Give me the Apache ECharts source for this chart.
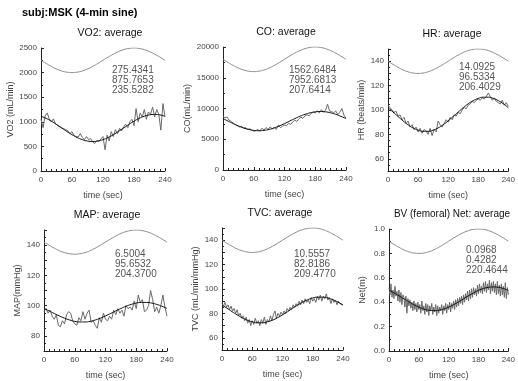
<!DOCTYPE html>
<html>
<head>
<meta charset="utf-8">
<script src="https://cdn.jsdelivr.net/npm/echarts@6/dist/echarts.min.js"></script>
<style>
  html, body { margin: 0; padding: 0; background: #fff; }
  #chart { width: 518px; height: 381px; }
</style>
</head>
<body>
<div id="chart"></div>
<script>
// time axis (sec)
var fitTimes = [0, 10, 20, 30, 40, 50, 60, 70, 80, 90, 100, 110, 120, 130, 140, 150, 160, 170, 180, 190, 200, 210, 220, 230, 240];

// VO2
var vo2Stim = [2250, 2185, 2125, 2073, 2033, 2009, 2000, 2009, 2033, 2073, 2125, 2185, 2250, 2315, 2375, 2427, 2467, 2491, 2500, 2491, 2467, 2427, 2375, 2315, 2250];
var vo2Fit = [1113, 1069, 1013, 946, 875, 804, 738, 681, 637, 609, 600, 609, 637, 681, 738, 804, 875, 946, 1013, 1069, 1113, 1141, 1150, 1141, 1113];
var vo2Raw = [1050, 880, 1120, 1180, 1060, 1000, 1060, 960, 930, 900, 880, 860, 840, 820, 760, 800, 720, 700, 690, 760, 680, 640, 700, 640, 660, 590, 560, 620, 600, 650, 700, 430, 730, 610, 800, 700, 840, 760, 870, 820, 900, 950, 880, 1000, 1050, 920, 1270, 1000, 1180, 1100, 1250, 1050, 1200, 1150, 1300, 1100, 1250, 1150, 830, 1370, 1100];

// CO
var coStim = [18000, 17482, 17000, 16586, 16268, 16068, 16000, 16068, 16268, 16586, 17000, 17482, 18000, 18518, 19000, 19414, 19732, 19932, 20000, 19932, 19732, 19414, 19000, 18518, 18000];
var coFit = [8354, 7950, 7546, 7170, 6847, 6599, 6443, 6390, 6443, 6599, 6847, 7170, 7546, 7950, 8354, 8730, 9053, 9301, 9457, 9510, 9457, 9301, 9053, 8730, 8354];
var coRaw = [8700, 8500, 8600, 8100, 7900, 7600, 7400, 7200, 7000, 7100, 6800, 6900, 6600, 6700, 6500, 6300, 6400, 6600, 6300, 6800, 6500, 6900, 6600, 7000, 6700, 6900, 6600, 7300, 6900, 7100, 7300, 7200, 7600, 7400, 7800, 8100, 7900, 8300, 8600, 8400, 8800, 9000, 8800, 9200, 9400, 9300, 9600, 9300, 9800, 9400, 9700, 10700, 9600, 9500, 9300, 9600, 9000, 9400, 10000, 8900, 8400];

// HR
var hrStim = [140, 137.4, 135, 132.9, 131.3, 130.3, 130, 130.3, 131.3, 132.9, 135, 137.4, 140, 142.6, 145, 147.1, 148.7, 149.7, 150, 149.7, 148.7, 147.1, 145, 142.6, 140];
var hrFit = [101.9, 98.3, 94.7, 91.1, 87.9, 85.3, 83.5, 82.5, 82.5, 83.5, 85.3, 87.9, 91.1, 94.7, 98.3, 101.9, 105.1, 107.7, 109.5, 110.5, 110.5, 109.5, 107.7, 105.1, 101.9];
var hrRaw = [104, 102, 100, 98, 99, 95, 96, 92, 94, 89, 91, 86, 88, 84, 86, 82, 85, 81, 84, 83, 80, 85, 79, 84, 82, 91, 88, 86, 89, 92, 90, 94, 92, 96, 95, 98, 97, 100, 102, 101, 104, 105, 107, 106, 108, 109, 108, 110, 109, 111, 114, 111, 108, 110, 107, 106, 105, 108, 104, 106, 103];

// MAP
var mapStim = [142, 139.9, 138, 136.3, 135.1, 134.3, 134, 134.3, 135.1, 136.3, 138, 139.9, 142, 144.1, 146, 147.7, 148.9, 149.7, 150, 149.7, 148.9, 147.7, 146, 144.1, 142];
var mapFit = [98.1, 96.5, 94.8, 93.2, 91.7, 90.5, 89.6, 89.2, 89.2, 89.6, 90.5, 91.7, 93.2, 94.8, 96.5, 98.1, 99.6, 100.8, 101.7, 102.1, 102.1, 101.7, 100.8, 99.6, 98.1];
var mapRaw = [96, 98, 95, 97, 93, 91, 94, 87, 86, 90, 88, 94, 96, 95, 90, 88, 87, 92, 90, 96, 91, 95, 97, 89, 90, 87, 85, 92, 89, 95, 91, 90, 93, 91, 97, 94, 98, 95, 97, 93, 100, 98, 99, 97, 103, 98, 107, 102, 104, 96, 97, 100, 110, 104, 96, 99, 95, 100, 107, 99, 93];

// TVC
var tvcStim = [140, 137.4, 135, 132.9, 131.3, 130.3, 130, 130.3, 131.3, 132.9, 135, 137.4, 140, 142.6, 145, 147.1, 148.7, 149.7, 150, 149.7, 148.7, 147.1, 145, 142.6, 140];
var tvcFit = [86.8, 84.2, 81.4, 78.8, 76.4, 74.4, 73.1, 72.3, 72.3, 73.1, 74.4, 76.4, 78.8, 81.4, 84.2, 86.8, 89.2, 91.2, 92.6, 93.3, 93.3, 92.6, 91.2, 89.2, 86.8];
var tvcRaw = [88, 86, 89, 85, 87, 83, 86, 82, 84, 80, 83, 78, 80, 76, 78, 74, 77, 72, 75, 70, 74, 71, 76, 72, 74, 70, 75, 72, 77, 71, 75, 73, 78, 74, 79, 82, 76, 80, 78, 81, 79, 82, 80, 84, 82, 85, 83, 87, 85, 88, 86, 90, 87, 91, 88, 92, 89, 91, 88, 93, 90, 92, 89, 94, 91, 95, 90, 94, 92, 96, 91, 93, 88, 92, 89, 91, 87, 90, 88, 89, 87];

// BV (femoral) Net
var bvStim = [0.9, 0.874, 0.85, 0.829, 0.813, 0.803, 0.8, 0.803, 0.813, 0.829, 0.85, 0.874, 0.9, 0.926, 0.95, 0.971, 0.987, 0.997, 1.0, 0.997, 0.987, 0.971, 0.95, 0.926, 0.9];
var bvFit = [0.497, 0.476, 0.453, 0.428, 0.403, 0.380, 0.360, 0.344, 0.334, 0.331, 0.334, 0.344, 0.360, 0.380, 0.403, 0.428, 0.453, 0.476, 0.497, 0.512, 0.522, 0.525, 0.522, 0.512, 0.497];
var bvRaw = [0.52, 0.46, 0.55, 0.44, 0.50, 0.43, 0.53, 0.45, 0.49, 0.41, 0.50, 0.40, 0.48, 0.38, 0.46, 0.44, 0.36, 0.45, 0.31, 0.43, 0.37, 0.42, 0.35, 0.40, 0.33, 0.41, 0.34, 0.39, 0.32, 0.40, 0.34, 0.38, 0.31, 0.41, 0.33, 0.37, 0.30, 0.39, 0.32, 0.38, 0.29, 0.37, 0.33, 0.39, 0.30, 0.36, 0.32, 0.38, 0.29, 0.37, 0.31, 0.36, 0.33, 0.38, 0.30, 0.37, 0.33, 0.39, 0.31, 0.38, 0.34, 0.40, 0.32, 0.39, 0.35, 0.41, 0.34, 0.42, 0.36, 0.43, 0.37, 0.44, 0.39, 0.45, 0.38, 0.46, 0.40, 0.47, 0.42, 0.49, 0.41, 0.50, 0.43, 0.51, 0.44, 0.52, 0.46, 0.51, 0.45, 0.54, 0.47, 0.55, 0.48, 0.53, 0.47, 0.56, 0.49, 0.57, 0.48, 0.55, 0.50, 0.58, 0.47, 0.56, 0.49, 0.57, 0.48, 0.55, 0.46, 0.57, 0.47, 0.54, 0.45, 0.55, 0.46, 0.53, 0.44, 0.56, 0.43, 0.52, 0.46];

var panels = [
  { title: 'VO2: average', yName: 'VO2 (mL/min)', stim: vo2Stim, fit: vo2Fit, raw: vo2Raw,
    stats: ['275.4341', '875.7653', '235.5282'], min: 0, max: 2500, interval: 500, labelStep: 500, labelFrom: 0,
    box: [41, 48, 124, 123], titleX: 110, titleSize: 10.5, statsPos: [112, 65], yGap: 26 },
  { title: 'CO: average', yName: 'CO(mL/min)', stim: coStim, fit: coFit, raw: coRaw,
    stats: ['1562.6484', '7952.6813', '207.6414'], min: 0, max: 20000, interval: 5000, labelStep: 5000, labelFrom: 0,
    box: [223, 47, 123, 123], titleX: 286, titleSize: 10.5, statsPos: [289, 65], yGap: 31 },
  { title: 'HR: average', yName: 'HR (beats/min)', stim: hrStim, fit: hrFit, raw: hrRaw,
    stats: ['14.0925', '96.5334', '206.4029'], min: 50, max: 150, interval: 10, labelStep: 20, labelFrom: 60,
    box: [388, 49, 123, 122], titleX: 452, titleSize: 10.5, statsPos: [459, 62], yGap: 22 },
  { title: 'MAP: average', yName: 'MAP(mmHg)', stim: mapStim, fit: mapFit, raw: mapRaw,
    stats: ['6.5004', '95.6532', '204.3700'], min: 70, max: 150, interval: 10, labelStep: 20, labelFrom: 80,
    box: [44, 230, 123, 121], titleX: 107, titleSize: 10.5, statsPos: [115, 249], yGap: 22 },
  { title: 'TVC: average', yName: 'TVC (mL/min/mmHg)', stim: tvcStim, fit: tvcFit, raw: tvcRaw,
    stats: ['10.5557', '82.8186', '209.4770'], min: 50, max: 150, interval: 10, labelStep: 20, labelFrom: 60,
    box: [222, 228, 121, 122], titleX: 280, titleSize: 10.5, statsPos: [294, 249], yGap: 22 },
  { title: 'BV (femoral) Net: average', yName: 'Net(m)', stim: bvStim, fit: bvFit, raw: bvRaw,
    stats: ['0.0968', '0.4282', '220.4644'], min: 0, max: 1, interval: 0.2, labelStep: 0.2, labelFrom: 0,
    box: [389, 229, 123, 123], titleX: 452, titleSize: 10, statsPos: [466, 245], yGap: 22 }
];

var FONT = 'Liberation Sans, Arial, sans-serif';

function pairs(times, vals) {
  return vals.map(function (v, i) { return [times[i], v]; });
}
function rawTimes(n) {
  var step = 240 / (n - 1), out = [];
  for (var i = 0; i < n; i++) out.push(i * step);
  return out;
}

var grids = [], xAxes = [], yAxes = [], series = [], graphics = [];

graphics.push({ type: 'text', left: 22, top: 7,
  style: { text: 'subj:MSK (4-min sine)', font: 'bold 11px ' + FONT, fill: '#000' } });

panels.forEach(function (p, i) {
  var b = p.box;
  grids.push({ left: b[0], top: b[1], width: b[2], height: b[3], containLabel: false });
  xAxes.push({
    gridIndex: i, type: 'value', min: 0, max: 240, interval: 60,
    name: 'time (sec)', nameLocation: 'middle', nameGap: 20,
    nameTextStyle: { fontFamily: FONT, fontSize: 9, color: '#444' },
    axisLine: { show: true, lineStyle: { color: '#222', width: 1 } },
    axisTick: { show: true, inside: true, length: 3, lineStyle: { color: '#222' } },
    minorTick: { show: true, splitNumber: 6, length: 2, lineStyle: { color: '#222' } },
    axisLabel: { fontFamily: FONT, fontSize: 8, color: '#444', margin: 5 },
    splitLine: { show: false }
  });
  var lf = p.labelFrom, ls = p.labelStep, mx = p.max;
  yAxes.push({
    gridIndex: i, type: 'value', min: p.min, max: p.max, interval: p.interval,
    name: p.yName, nameLocation: 'middle', nameGap: p.yGap,
    nameTextStyle: { fontFamily: FONT, fontSize: 9, color: '#444' },
    axisLine: { show: true, lineStyle: { color: '#222', width: 1 } },
    axisTick: { show: true, inside: true, length: 3, lineStyle: { color: '#222' } },
    minorTick: { show: true, splitNumber: 2, length: 2, lineStyle: { color: '#222' } },
    axisLabel: {
      fontFamily: FONT, fontSize: 8, color: '#444', margin: 4,
      formatter: function (v) {
        if (v < lf - 1e-9) return '';
        var k = (v - lf) / ls;
        if (Math.abs(k - Math.round(k)) > 1e-6) return '';
        if (ls < 1) return v.toFixed(1);
        if (ls === 20 && v >= mx) return '';
        return String(v);
      }
    },
    splitLine: { show: false }
  });
  series.push({
    type: 'line', xAxisIndex: i, yAxisIndex: i, data: pairs(fitTimes, p.stim),
    smooth: true, symbol: 'none', silent: true,
    lineStyle: { color: '#8a8a8a', width: 1 }
  });
  series.push({
    type: 'line', xAxisIndex: i, yAxisIndex: i, data: pairs(rawTimes(p.raw.length), p.raw),
    symbol: 'none', silent: true,
    lineStyle: { color: '#6a6a6a', width: 1 }
  });
  series.push({
    type: 'line', xAxisIndex: i, yAxisIndex: i, data: pairs(fitTimes, p.fit),
    smooth: true, symbol: 'none', silent: true,
    lineStyle: { color: '#111', width: 1 }
  });
  graphics.push({
    type: 'text', x: p.titleX, y: b[1] - 15,
    style: { text: p.title, font: p.titleSize + 'px ' + FONT, fill: '#111', align: 'center', verticalAlign: 'middle' }
  });
  graphics.push({
    type: 'text', left: p.statsPos[0], top: p.statsPos[1],
    style: { text: p.stats.join('\n'), font: '10px ' + FONT, fill: '#555', lineHeight: 10 }
  });
});

var chart = echarts.init(document.getElementById('chart'));
chart.setOption({
  animation: false,
  backgroundColor: '#fff',
  grid: grids,
  xAxis: xAxes,
  yAxis: yAxes,
  series: series,
  graphic: graphics
});
</script>
</body>
</html>
